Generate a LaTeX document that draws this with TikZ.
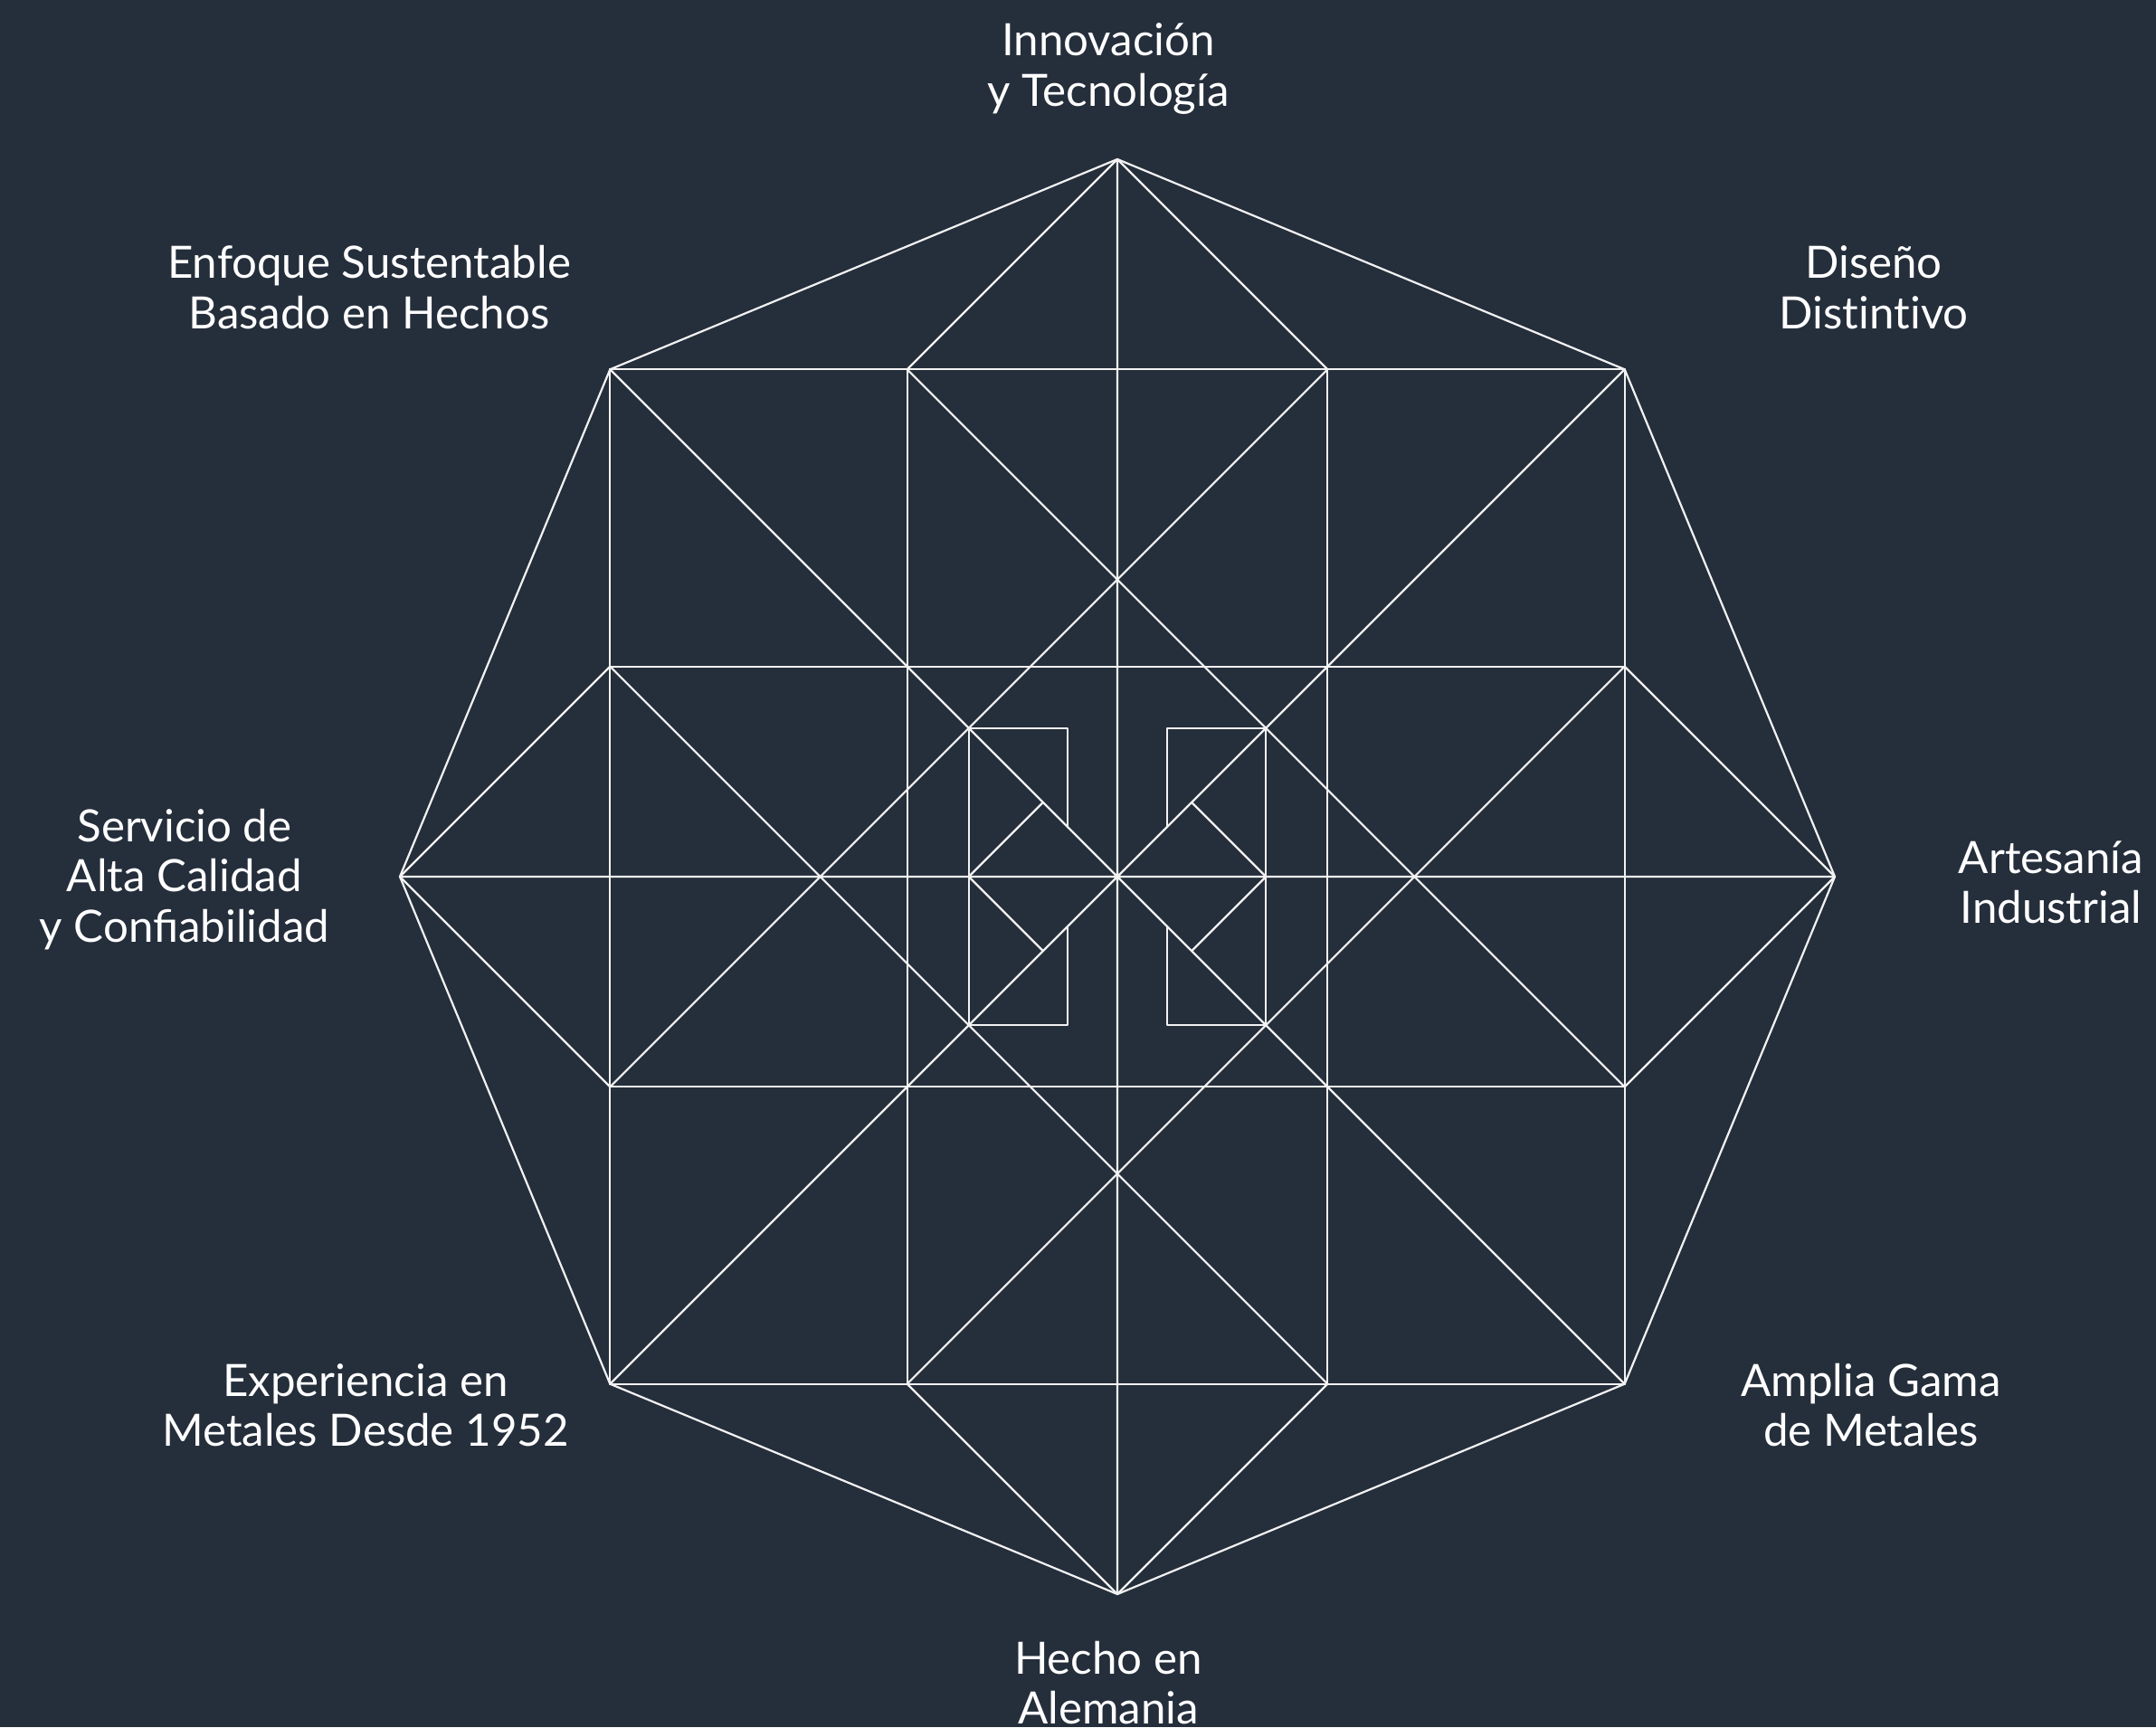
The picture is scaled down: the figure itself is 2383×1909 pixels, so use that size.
\documentclass[tikz,border=0pt]{standalone}
\usepackage{fontspec}
\setmainfont{Lato}
\definecolor{bg}{HTML}{252E3B}
\definecolor{ln}{HTML}{F2F2F2}
\newcommand{\lines}[1]{\begin{tabular}[t]{@{}c@{}}#1\end{tabular}}
\begin{document}
\begin{tikzpicture}[x=0.01cm,y=0.01cm,
  geo/.style={draw=ln,line width=0.63pt,line cap=round,line join=round},
  lbl/.style={text=white,anchor=base,inner sep=0pt,font=\fontsize{14}{15.9}\selectfont}]
\fill[bg] (-1235,-940) rectangle (1148,969);
\useasboundingbox (-1235,-940) rectangle (1148,969);
\def\R{793}\def\A{560.7}\def\B{232.3}\def\D{328.4}
\pgfmathsetmacro\h{\D/2}
\pgfmathsetmacro\s{\D/6}
\pgfmathsetmacro\q{\D/4}
% octagon vertices
\coordinate (V0) at (\R,0);
\coordinate (V1) at (\A,\A);
\coordinate (V2) at (0,\R);
\coordinate (V3) at (-\A,\A);
\coordinate (V4) at (-\R,0);
\coordinate (V5) at (-\A,-\A);
\coordinate (V6) at (0,-\R);
\coordinate (V7) at (\A,-\A);
\coordinate (O) at (0,0);
% points on the square
\coordinate (T1) at (-\B,\A);
\coordinate (T2) at (\B,\A);
\coordinate (B1) at (-\B,-\A);
\coordinate (B2) at (\B,-\A);
\coordinate (L1) at (-\A,\B);
\coordinate (L2) at (-\A,-\B);
\coordinate (R1) at (\A,\B);
\coordinate (R2) at (\A,-\B);
% inner left rectangle
\coordinate (P1) at (-\h,\h);
\coordinate (P2) at (-\s,\h);
\coordinate (P3) at (-\s,\s);
\coordinate (P4) at (-\h,-\h);
\coordinate (P5) at (-\s,-\h);
\coordinate (P6) at (-\s,-\s);
\coordinate (M1) at (-\h,0);
\coordinate (Q1) at (-\q,\q);
\coordinate (Q2) at (-\q,-\q);
% inner right rectangle
\coordinate (S1) at (\h,\h);
\coordinate (S2) at (\s,\h);
\coordinate (S3) at (\s,\s);
\coordinate (S4) at (\h,-\h);
\coordinate (S5) at (\s,-\h);
\coordinate (S6) at (\s,-\s);
\coordinate (M2) at (\h,0);
\coordinate (U1) at (\q,\q);
\coordinate (U2) at (\q,-\q);

\draw[geo] (V0)--(V1)--(V2)--(V3)--(V4)--(V5)--(V6)--(V7)--cycle;
\draw[geo] (V1)--(V3)--(V5)--(V7)--cycle;
\draw[geo] (V1)--(V5) (V3)--(V7) (V2)--(V6) (V0)--(V4);
\draw[geo] (T1)--(B1) (T2)--(B2) (L1)--(R1) (L2)--(R2);
\draw[geo] (V2)--(T1) (V2)--(T2) (V4)--(L1) (V4)--(L2)
           (V6)--(B1) (V6)--(B2) (V0)--(R1) (V0)--(R2);
\draw[geo] (T1)--(R2) (T2)--(L2) (L1)--(B2) (R1)--(B1);
\draw[geo] (P3)--(P2)--(P1)--(P4)--(P5)--(P6);
\draw[geo] (Q1)--(M1)--(Q2);
\draw[geo] (S3)--(S2)--(S1)--(S4)--(S5)--(S6);
\draw[geo] (U1)--(M2)--(U2);

\node[lbl] (top) at (-10,907) {\lines{Innovación\\y Tecnología}};
\node[lbl] (tl) at (-827,661) {\lines{Enfoque Sustentable\\Basado en Hechos}};
\node[lbl] (tr) at (836,661) {\lines{Diseño\\Dis\kern0ptt\kern0pti\kern0ptn\kern0ptt\kern0pti\kern0ptvo}};
\node[lbl] (ml) at (-1031,39) {\lines{Servicio de\\Alta Calidad\\y Confiabilidad}};
\node[lbl] (mr) at (1032,4) {\lines{Artesanía\\Industrial}};
\node[lbl] (br) at (833,-574) {\lines{Amplia Gama\\de Metales}};
\node[lbl] (bot) at (-10,-881) {\lines{Hecho en\\Alemania}};
\node[lbl] (bl) at (-831,-574) {\lines{Experiencia en\\Metales Desde 1952}};
\end{tikzpicture}
\end{document}
